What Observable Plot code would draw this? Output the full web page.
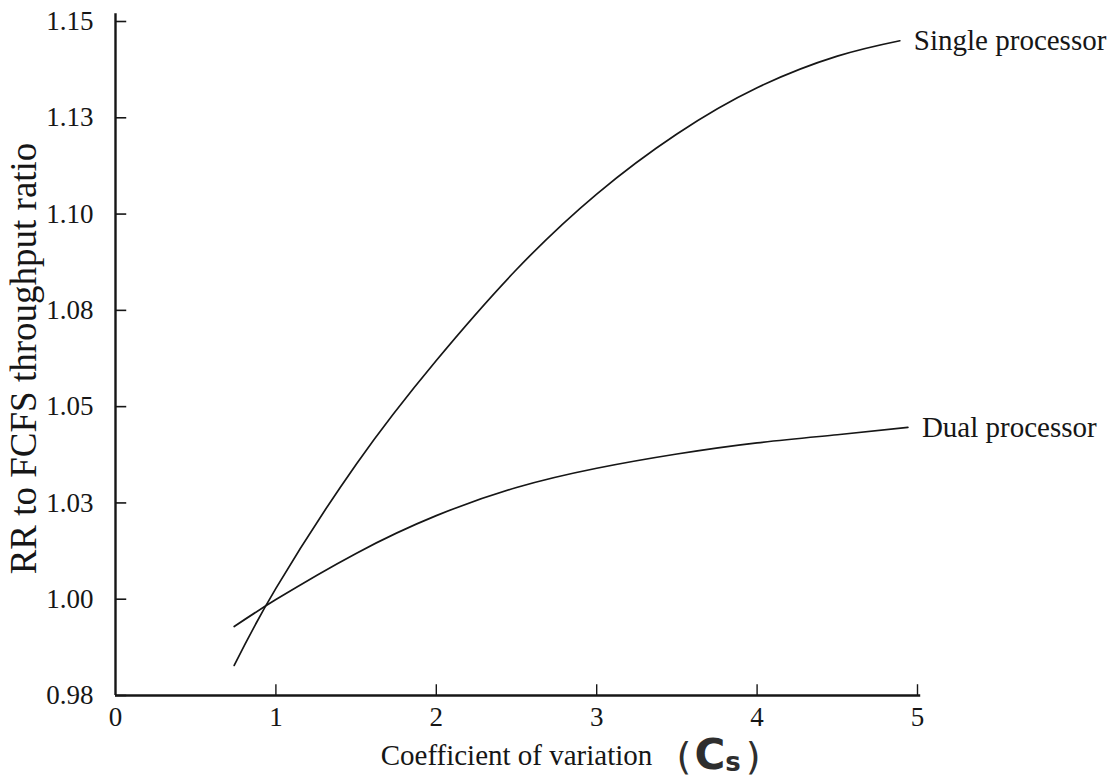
<!DOCTYPE html>
<html><head><meta charset="utf-8">
<script src="https://cdn.jsdelivr.net/npm/d3@7"></script>
<script src="https://cdn.jsdelivr.net/npm/@observablehq/plot@0.6"></script>
<style>body{margin:0;background:#fff}</style>
</head><body><div id="chart"></div>
<script>
// Data
const seriesNames = ["Single processor", "Dual processor"];
const xSingle = [0.74, 1.0, 1.5, 2.0, 2.5, 3.0, 3.5, 4.0, 4.5, 4.89];
const ySingle = [0.9828, 1.0028, 1.0350, 1.0620, 1.0856, 1.1052, 1.1208, 1.1328, 1.1410, 1.1450];
const xDual = [0.74, 1.0, 1.5, 2.0, 2.5, 3.0, 3.5, 4.0, 4.5, 4.94];
const yDual = [0.9929, 0.9999, 1.0119, 1.0217, 1.0290, 1.0340, 1.0377, 1.0406, 1.0427, 1.0446];
const yTickValues = [0.975, 1.0, 1.025, 1.05, 1.075, 1.1, 1.125, 1.15];
const yTickLabels = ["0.98", "1.00", "1.03", "1.05", "1.08", "1.10", "1.13", "1.15"];
const xTickValues = [0, 1, 2, 3, 4, 5];
const xLabel = "Coefficient of variation";
const yLabel = "RR to FCFS throughput ratio";
const noteParts = ["(", "C", "s", ")"];

const data = [
  ...xSingle.map((x, i) => ({series: seriesNames[0], x, y: ySingle[i]})),
  ...xDual.map((x, i) => ({series: seriesNames[1], x, y: yDual[i]}))
];
const ends = seriesNames.map(s => data.filter(d => d.series === s).at(-1));

const ink = "#161616";
const plot = Plot.plot({
  width: 1116, height: 782,
  marginLeft: 115, marginRight: 199, marginTop: 21, marginBottom: 87,
  style: {fontFamily: "'Liberation Serif', 'Times New Roman', serif", fontSize: "27px", color: ink, background: "#fff"},
  x: {domain: [0, 5]},
  y: {domain: [0.975, 1.15]},
  marks: [
    Plot.axisX({ticks: xTickValues, tickSize: 0, tickPadding: 11, tickFormat: d => String(d),
      label: xLabel, labelAnchor: "center", labelArrow: "none", labelOffset: 69}),
    Plot.axisY({ticks: yTickValues, tickSize: 0, tickPadding: 22, tickFormat: d => yTickLabels[yTickValues.indexOf(d)],
      label: yLabel, labelAnchor: "center", labelArrow: "none", labelOffset: 106}),
    Plot.ruleY(yTickValues, {y: d => d, x1: () => 0, x2: () => 0.07, stroke: ink, strokeWidth: 1.6}),
    Plot.ruleX(xTickValues.slice(1), {x: d => d, y1: () => 0.975, y2: () => 0.9778, stroke: ink, strokeWidth: 1.4}),
    Plot.ruleX([0], {y1: () => 0.975, y2: () => 1.152, stroke: ink, strokeWidth: 2.4}),
    Plot.ruleY([0.975], {x1: () => 0, x2: () => 5.02, stroke: ink, strokeWidth: 2.4}),
    Plot.line(data, {x: "x", y: "y", z: "series", curve: "natural", stroke: ink, strokeWidth: 1.7}),
    Plot.text(ends, {x: "x", y: "y", text: "series", textAnchor: "start", dx: 14, fill: ink, fontSize: 29})
  ]
});
document.getElementById("chart").append(plot);

const svg = d3.select(plot);
svg.select('g[aria-label="y-axis label"] text').attr("font-size", 37);
const lab = svg.select('g[aria-label="x-axis label"] text');
if (!lab.empty()) {
  lab.attr("font-size", 29);
  const bb = lab.node().getBBox();
  const t = d3.select(lab.node().parentNode).append("text")
    .attr("transform", lab.attr("transform"))
    .attr("x", (+lab.attr("x") || 0) + bb.width / 2 + 24)
    .attr("y", lab.attr("y"))
    .attr("dy", lab.attr("dy"))
    .attr("text-anchor", "start")
    .attr("fill", "#2e2e2e")
    .attr("font-family", "'DejaVu Sans', sans-serif")
    .attr("font-weight", "bold");
  t.append("tspan").attr("font-size", 38).attr("font-weight", "normal").attr("dy", 4).text(noteParts[0]);
  t.append("tspan").attr("font-size", 42).attr("dx", 3).text(noteParts[1]);
  t.append("tspan").attr("font-size", 26).attr("dy", 2).text(noteParts[2]);
  t.append("tspan").attr("font-size", 38).attr("font-weight", "normal").attr("dy", -2).attr("dx", 5).text(noteParts[3]);
}
</script>
</body></html>
